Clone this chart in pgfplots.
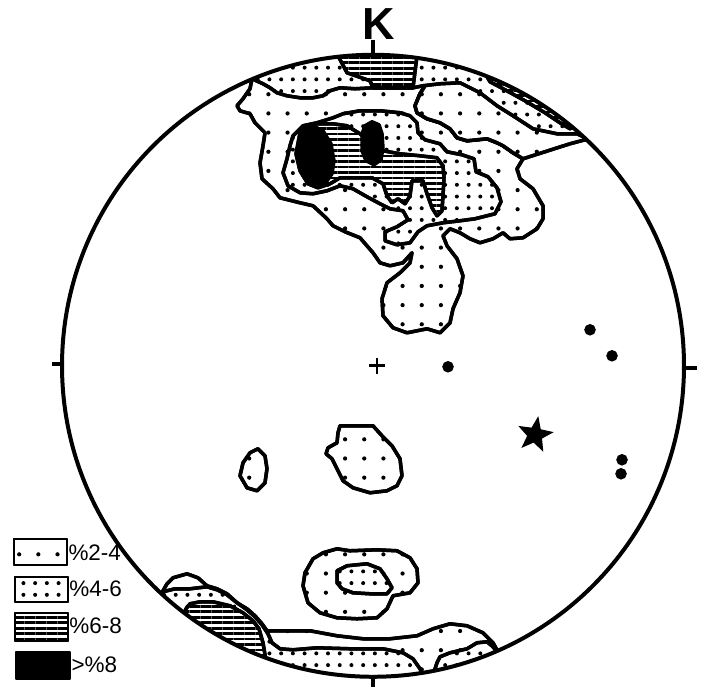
\documentclass[border=0pt]{standalone}
\usepackage{pgfplots}
\pgfplotsset{compat=1.18}
\usetikzlibrary{patterns.meta}
\usepackage{fontspec}
\setmainfont{Liberation Sans}

\pgfdeclareplotmark{fstar}{%
  \pgfpathmoveto{\pgfpointpolar{80}{\pgfplotmarksize}}%
  \pgfpathlineto{\pgfpointpolar{116}{0.42\pgfplotmarksize}}%
  \pgfpathlineto{\pgfpointpolar{152}{\pgfplotmarksize}}%
  \pgfpathlineto{\pgfpointpolar{188}{0.42\pgfplotmarksize}}%
  \pgfpathlineto{\pgfpointpolar{224}{\pgfplotmarksize}}%
  \pgfpathlineto{\pgfpointpolar{260}{0.42\pgfplotmarksize}}%
  \pgfpathlineto{\pgfpointpolar{296}{\pgfplotmarksize}}%
  \pgfpathlineto{\pgfpointpolar{332}{0.42\pgfplotmarksize}}%
  \pgfpathlineto{\pgfpointpolar{8}{\pgfplotmarksize}}%
  \pgfpathlineto{\pgfpointpolar{44}{0.42\pgfplotmarksize}}%
  \pgfpathclose
  \pgfusepathqfillstroke}

\pgfplotsset{
  base/.style={scale only axis, width=10cm, height=9.5915cm,
    xmin=0, xmax=710, ymin=0, ymax=681, y dir=reverse, hide axis},
  contour/.style={draw=black, line width=1.4pt, line join=round},
  z24/.style={contour, fill=white, postaction={pattern={Dots[distance=0.27cm, radius=0.85pt]}}},
  z46/.style={contour, fill=white, postaction={pattern={Dots[distance=0.165cm, radius=0.8pt]}}},
  z68/.style={contour, fill=white, postaction={pattern={Lines[distance=2.2pt, angle=0, line width=1.1pt]}}},
  z8/.style={contour, fill=black},
}

\begin{document}
\begin{tikzpicture}
% ---------- contoured areas (clipped to the net) ----------
\begin{axis}[base]
\clip (axis cs:373,360) circle [radius=4.38cm];
% outer 2-4 blob (top)
\addplot[z24] coordinates {(240,30) (240,62) (252,73) (250,83) (243,93) (237,100) (240,105) (250,108) (255,117) (265,127) (263,140) (260,157) (262,173) (273,183) (280,192) (300,197) (313,200) (327,213) (333,220) (345,226) (360,232) (373,247) (380,257) (390,260) (403,257) (412,247) (410,257) (400,267) (387,277) (382,293) (383,310) (393,322) (407,327) (427,323) (440,327) (450,317) (453,303) (460,287) (463,270) (457,253) (447,240) (443,230) (450,223) (460,227) (470,233) (480,237) (493,233) (503,227) (510,233) (523,232) (537,223) (543,213) (543,200) (533,183) (520,173) (517,163) (523,153) (513,147) (503,140) (497,137) (487,133) (467,135) (457,132) (450,123) (440,117) (427,113) (417,107) (415,100) (420,88) (425,80) (425,30)} --cycle;
% band 2-4 (top right)
\addplot[z24] coordinates {(425,80) (425,30) (620,60) (600,136) (585,134) (570,138) (548,145) (523,153) (513,147) (503,140) (497,137) (487,133) (467,135) (457,132) (450,123) (440,117) (427,113) (417,107) (415,100) (420,88)} --cycle;
% inner 4-6
\addplot[z46] coordinates {(343,108) (360,105) (380,105) (400,107) (410,110) (417,117) (418,127) (425,134) (440,138) (447,146) (462,149) (474,153) (476,166) (488,171) (497,182) (501,196) (495,208) (475,213) (460,215) (443,217) (427,220) (418,226) (410,237) (397,239) (385,235) (385,226) (397,221) (408,214) (403,205) (390,203) (380,198) (367,191) (353,183) (340,180) (327,185) (313,188) (300,187) (288,180) (283,167) (287,153) (290,140) (293,130) (303,120) (317,117) (333,112)} --cycle;
% 6-8 hatched
\addplot[z68] coordinates {(300,127) (313,118) (333,118) (347,120) (360,128) (372,138) (383,145) (400,148) (420,150) (437,152) (443,160) (444,172) (443,190) (442,205) (437,210) (432,202) (427,188) (423,175) (412,175) (410,190) (405,198) (398,193) (392,197) (387,190) (383,178) (372,172) (355,172) (340,172) (330,178) (318,182) (308,178) (300,165) (296,148)} --cycle;
% >8 black
\addplot[z8] coordinates {(300,127) (313,120) (323,125) (331,138) (334,155) (332,168) (325,178) (316,180) (307,172) (301,158) (299,140)} --cycle;
\addplot[z8] coordinates {(362,128) (365,120) (372,116) (379,119) (382,128) (383,142) (381,154) (374,159) (366,155) (362,145)} --cycle;
% top edge strip 4-6
\addplot[z46] coordinates {(235,70) (252,73) (263,78) (270,82) (277,87) (287,90) (300,92) (313,92) (323,90) (330,85) (340,82) (355,83) (373,82) (413,82) (423,80) (440,78) (460,77) (480,87) (497,100) (513,110) (533,123) (557,128) (577,128) (596,137) (615,120) (620,40) (380,15) (235,40)} --cycle;
% top hatched block
\addplot[z68] coordinates {(335,30) (338,50) (347,67) (370,75) (373,82) (413,82) (417,50) (418,30)} --cycle;
% top right hatched sliver
\addplot[z68] coordinates {(484,66) (490,76) (505,84) (525,95) (545,107) (560,117) (570,123) (590,110) (510,50)} --cycle;
% bottom: outer 2-4
\addplot[z24] coordinates {(160,590) (163,585) (167,578) (173,572) (187,568) (198,572) (207,580) (217,583) (227,588) (237,597) (247,603) (255,610) (262,618) (267,625) (283,625) (310,625) (337,630) (363,633) (390,633) (417,630) (433,623) (450,618) (467,620) (483,627) (493,637) (498,646) (505,660) (380,700) (150,620)} --cycle;
% bottom: 4-6 strip
\addplot[z46] coordinates {(150,596) (163,586) (175,583) (190,583) (207,581) (217,584) (227,589) (237,597) (247,604) (255,611) (262,619) (268,628) (272,637) (280,643) (293,644) (317,642) (350,643) (383,643) (403,647) (413,653) (420,663) (425,672) (300,700) (150,640) (145,600)} --cycle;
% bottom right small 4-6
\addplot[z46] coordinates {(432,672) (437,657) (440,651) (450,647) (467,643) (477,637) (487,636) (493,641) (500,650) (460,690) (430,690)} --cycle;
% bottom left hatched
\addplot[z68] coordinates {(186,603) (190,598) (200,596) (213,596) (230,600) (243,607) (253,615) (259,623) (263,637) (266,655) (266,670) (170,640)} --cycle;
% middle left small loop
\addplot[z24] coordinates {(258,443) (265,450) (267,463) (265,477) (257,485) (247,482) (240,470) (243,457) (250,447)} --cycle;
% middle blob
\addplot[z24] coordinates {(340,420) (373,420) (382,430) (392,440) (400,453) (402,470) (397,480) (387,485) (370,487) (353,482) (343,475) (337,463) (332,453) (326,448) (328,442) (337,437) (338,427)} --cycle;
% lower middle blob
\addplot[z24] coordinates {(323,547) (337,543) (350,545) (377,544) (397,545) (410,552) (417,563) (418,577) (410,587) (393,590) (387,603) (377,612) (357,613) (337,612) (320,607) (308,597) (303,580) (305,567) (313,553)} --cycle;
\addplot[z46] coordinates {(337,565) (347,560) (367,558) (380,563) (387,573) (392,582) (387,588) (370,588) (353,587) (342,583) (337,577)} --cycle;
\end{axis}

% ---------- net, marks, legend ----------
\begin{axis}[base, clip=false]
\addplot[draw=none] coordinates {(0,0) (710,681)};
\draw[line width=1.6pt] (axis cs:373,360) circle [radius=4.38cm];
\addplot[black, line width=1.4pt] coordinates {(373,34) (373,49)};
\addplot[black, line width=1.4pt] coordinates {(373,671) (373,681)};
\addplot[black, line width=1.4pt] coordinates {(52,358) (63,358)};
\addplot[black, line width=1.4pt] coordinates {(683,362) (697,362)};
\addplot[black, line width=1.1pt] coordinates {(369,360) (385,360)};
\addplot[black, line width=1.1pt] coordinates {(377,352) (377,368)};
\addplot[only marks, mark=*, mark size=2.1pt, black] coordinates {(448,361) (590,324) (612,350) (622,454) (621,468)};
\addplot[only marks, mark=fstar, mark size=7pt, black] coordinates {(535,429)};
% legend
\addplot[z24, line width=0.9pt] coordinates {(14,533) (67,533) (67,559) (14,559)} --cycle;
\addplot[z46, line width=0.9pt] coordinates {(15,571) (68,571) (68,596) (15,596)} --cycle;
\addplot[z68, line width=0.9pt] coordinates {(15,607) (68,607) (68,635) (15,635)} --cycle;
\addplot[z8, line width=0.9pt] coordinates {(16,646) (70,646) (70,673) (16,673)} --cycle;
\node[anchor=west, inner sep=0pt, font=\fontsize{9}{9}\selectfont] at (axis cs:68,547) {\%2-4};
\node[anchor=west, inner sep=0pt, font=\fontsize{9}{9}\selectfont] at (axis cs:69,583) {\%4-6};
\node[anchor=west, inner sep=0pt, font=\fontsize{9}{9}\selectfont] at (axis cs:69,620) {\%6-8};
\node[anchor=west, inner sep=0pt, font=\fontsize{9}{9}\selectfont] at (axis cs:71,659) {>\%8};
\node[font=\fontsize{18}{18}\selectfont\bfseries] at (axis cs:379,18) {K};
\end{axis}
\end{tikzpicture}
\end{document}
